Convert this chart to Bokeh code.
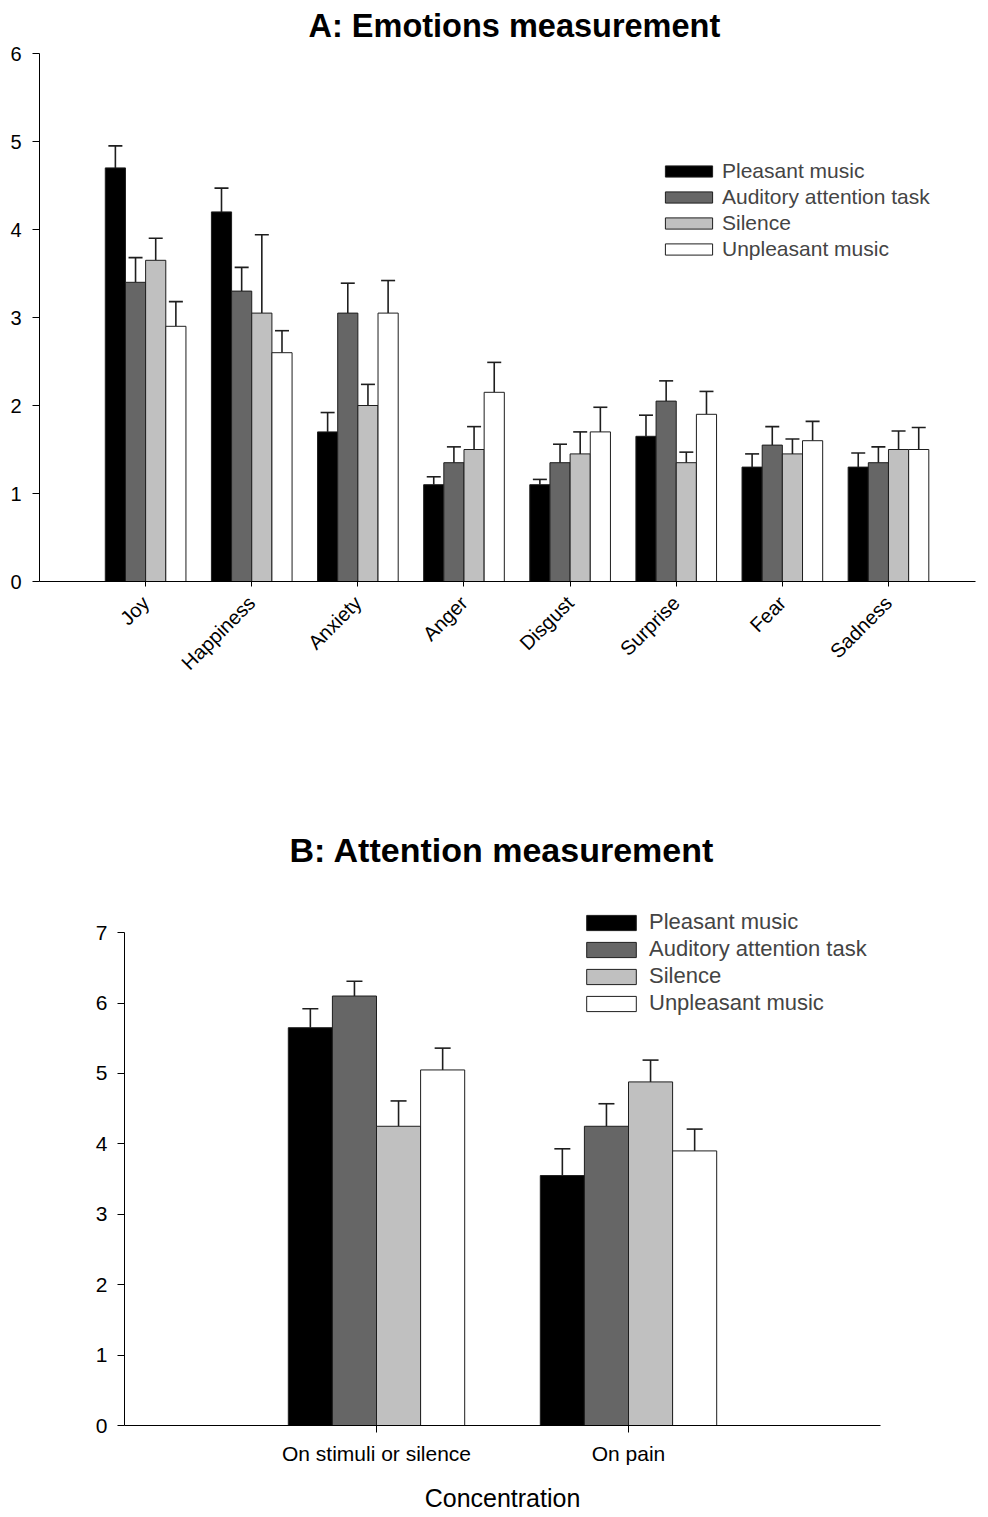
import math
from bokeh.plotting import figure
from bokeh.models import (ColumnDataSource, Whisker, TeeHead, FixedTicker,
                          Legend, LegendItem, Range1d)
from bokeh.embed import file_html
from bokeh.resources import INLINE

FONT = "Liberation Sans"

series = ["Pleasant music", "Auditory attention task", "Silence", "Unpleasant music"]
fills = ["#000000", "#666666", "#c0c0c0", "#ffffff"]

# Panel A: emotions
emotions = ["Joy", "Happiness", "Anxiety", "Anger", "Disgust", "Surprise", "Fear", "Sadness"]
emo_pleasant = [4.70, 4.20, 1.70, 1.10, 1.10, 1.65, 1.30, 1.30]
emo_pleasant_err = [0.25, 0.27, 0.22, 0.09, 0.06, 0.24, 0.15, 0.16]
emo_auditory = [3.40, 3.30, 3.05, 1.35, 1.35, 2.05, 1.55, 1.35]
emo_auditory_err = [0.28, 0.27, 0.34, 0.18, 0.21, 0.23, 0.21, 0.18]
emo_silence = [3.65, 3.05, 2.00, 1.50, 1.45, 1.35, 1.45, 1.50]
emo_silence_err = [0.25, 0.89, 0.24, 0.26, 0.25, 0.12, 0.17, 0.21]
emo_unpleasant = [2.90, 2.60, 3.05, 2.15, 1.70, 1.90, 1.60, 1.50]
emo_unpleasant_err = [0.28, 0.25, 0.37, 0.34, 0.28, 0.26, 0.22, 0.25]
emo_ticks = [0, 1, 2, 3, 4, 5, 6]

# Panel B: attention
concentration = ["On stimuli or silence", "On pain"]
att_pleasant = [5.65, 3.55]
att_pleasant_err = [0.27, 0.38]
att_auditory = [6.10, 4.25]
att_auditory_err = [0.21, 0.32]
att_silence = [4.25, 4.88]
att_silence_err = [0.36, 0.31]
att_unpleasant = [5.05, 3.90]
att_unpleasant_err = [0.31, 0.31]
att_ticks = [0, 1, 2, 3, 4, 5, 6, 7]


def style_axes(p, tick_size, x_tick_out):
    for ax in (p.xaxis[0], p.yaxis[0]):
        ax.axis_line_color = "#000000"
        ax.axis_line_width = 1
        ax.major_tick_line_color = "#000000"
        ax.major_tick_in = 0
        ax.minor_tick_line_color = None
        ax.major_label_text_font = FONT
        ax.major_label_text_color = "#000000"
        ax.major_label_text_font_size = tick_size
    p.yaxis.major_tick_out = 7
    p.xaxis.major_tick_out = x_tick_out
    p.xgrid.visible = False
    p.ygrid.visible = False
    p.outline_line_color = None
    p.title.text_color = "#000000"


def draw_bars(p, cats, vals, errs, bw, offsets, cap):
    renderers = []
    for i in range(4):
        xs = [k + 1 + offsets[i] for k in range(len(cats))]
        src = ColumnDataSource(dict(
            x=xs, top=vals[i],
            upper=[v + e for v, e in zip(vals[i], errs[i])],
            lower=vals[i]))
        r = p.vbar(x="x", top="top", bottom=0, width=bw, source=src,
                   fill_color=fills[i], line_color="#1e1e1e", line_width=1)
        w = Whisker(base="x", lower="lower", upper="upper", source=src,
                    upper_head=TeeHead(size=cap, line_color="#1e1e1e", line_width=1.6),
                    lower_head=None, line_color="#1e1e1e", line_width=1.6)
        p.add_layout(w)
        renderers.append(r)
    return renderers


# ---------------- Panel A ----------------
pA = figure(width=980, height=752, frame_width=936, frame_height=528,
            x_range=Range1d(0, 8.82), y_range=Range1d(0, 6),
            min_border_left=39, min_border_right=5,
            min_border_top=53, min_border_bottom=171,
            output_backend="svg", toolbar_location=None)
pA.title.text = "A: Emotions measurement"
pA.title.text_font = FONT
pA.title.text_font_size = "32.5px"
pA.title.text_font_style = "bold"
pA.title.align = "left"
pA.title.vertical_align = "top"
pA.title.offset = 269
pA.title.standoff = 15
style_axes(pA, "20px", 5)
pA.yaxis.ticker = FixedTicker(ticks=emo_ticks)
pA.yaxis.major_label_standoff = 11
pA.xaxis.ticker = FixedTicker(ticks=list(range(1, len(emotions) + 1)))
pA.xaxis.major_label_overrides = {i + 1: e for i, e in enumerate(emotions)}
pA.xaxis.major_label_orientation = math.pi / 4
pA.xaxis.major_label_text_font_size = "20px"
pA.xaxis.major_label_standoff = 13

rA = draw_bars(pA, emotions,
               [emo_pleasant, emo_auditory, emo_silence, emo_unpleasant],
               [emo_pleasant_err, emo_auditory_err, emo_silence_err, emo_unpleasant_err],
               0.19, [-0.285, -0.095, 0.095, 0.285], 14)
legA = Legend(items=[LegendItem(label=s, renderers=[r]) for s, r in zip(series, rA)],
              location=(620, 320), padding=0, margin=0, spacing=2,
              glyph_width=59, glyph_height=14, label_height=20, label_standoff=4,
              label_text_font=FONT, label_text_font_size="21px",
              border_line_color=None, background_fill_alpha=0)
pA.add_layout(legA)

# ---------------- Panel B ----------------
pB = figure(width=980, height=755, frame_width=756, frame_height=521,
            x_range=Range1d(0, 3), y_range=Range1d(0, 7.4),
            min_border_left=124, min_border_right=100,
            min_border_top=152, min_border_bottom=82,
            output_backend="svg", toolbar_location=None)
pB.title.text = "B: Attention measurement"
pB.title.text_font = FONT
pB.title.text_font_size = "34px"
pB.title.text_font_style = "bold"
pB.title.align = "left"
pB.title.offset = 165
pB.title.standoff = 71
style_axes(pB, "21px", 7)
pB.yaxis.ticker = FixedTicker(ticks=att_ticks)
pB.yaxis.bounds = (0, 7)
pB.yaxis.major_label_standoff = 10
pB.xaxis.ticker = FixedTicker(ticks=list(range(1, len(concentration) + 1)))
pB.xaxis.major_label_overrides = {i + 1: c for i, c in enumerate(concentration)}
pB.xaxis.major_label_text_font_size = "21px"
pB.xaxis.major_label_standoff = 9
pB.xaxis.axis_label = "Concentration"
pB.xaxis.axis_label_text_font = FONT
pB.xaxis.axis_label_text_font_size = "25px"
pB.xaxis.axis_label_text_font_style = "normal"
pB.xaxis.axis_label_text_color = "#000000"
pB.xaxis.axis_label_standoff = 16

rB = draw_bars(pB, concentration,
               [att_pleasant, att_auditory, att_silence, att_unpleasant],
               [att_pleasant_err, att_auditory_err, att_silence_err, att_unpleasant_err],
               0.175, [-0.2625, -0.0875, 0.0875, 0.2625], 16)
legB = Legend(items=[LegendItem(label=s, renderers=[r]) for s, r in zip(series, rB)],
              location=(456, 409), padding=0, margin=0, spacing=1,
              glyph_width=62, glyph_height=19, label_height=20, label_standoff=7,
              label_text_font=FONT, label_text_font_size="22px",
              border_line_color=None, background_fill_alpha=0)
pB.add_layout(legB)

open("out.html", "w").write(file_html([pA, pB], INLINE))
